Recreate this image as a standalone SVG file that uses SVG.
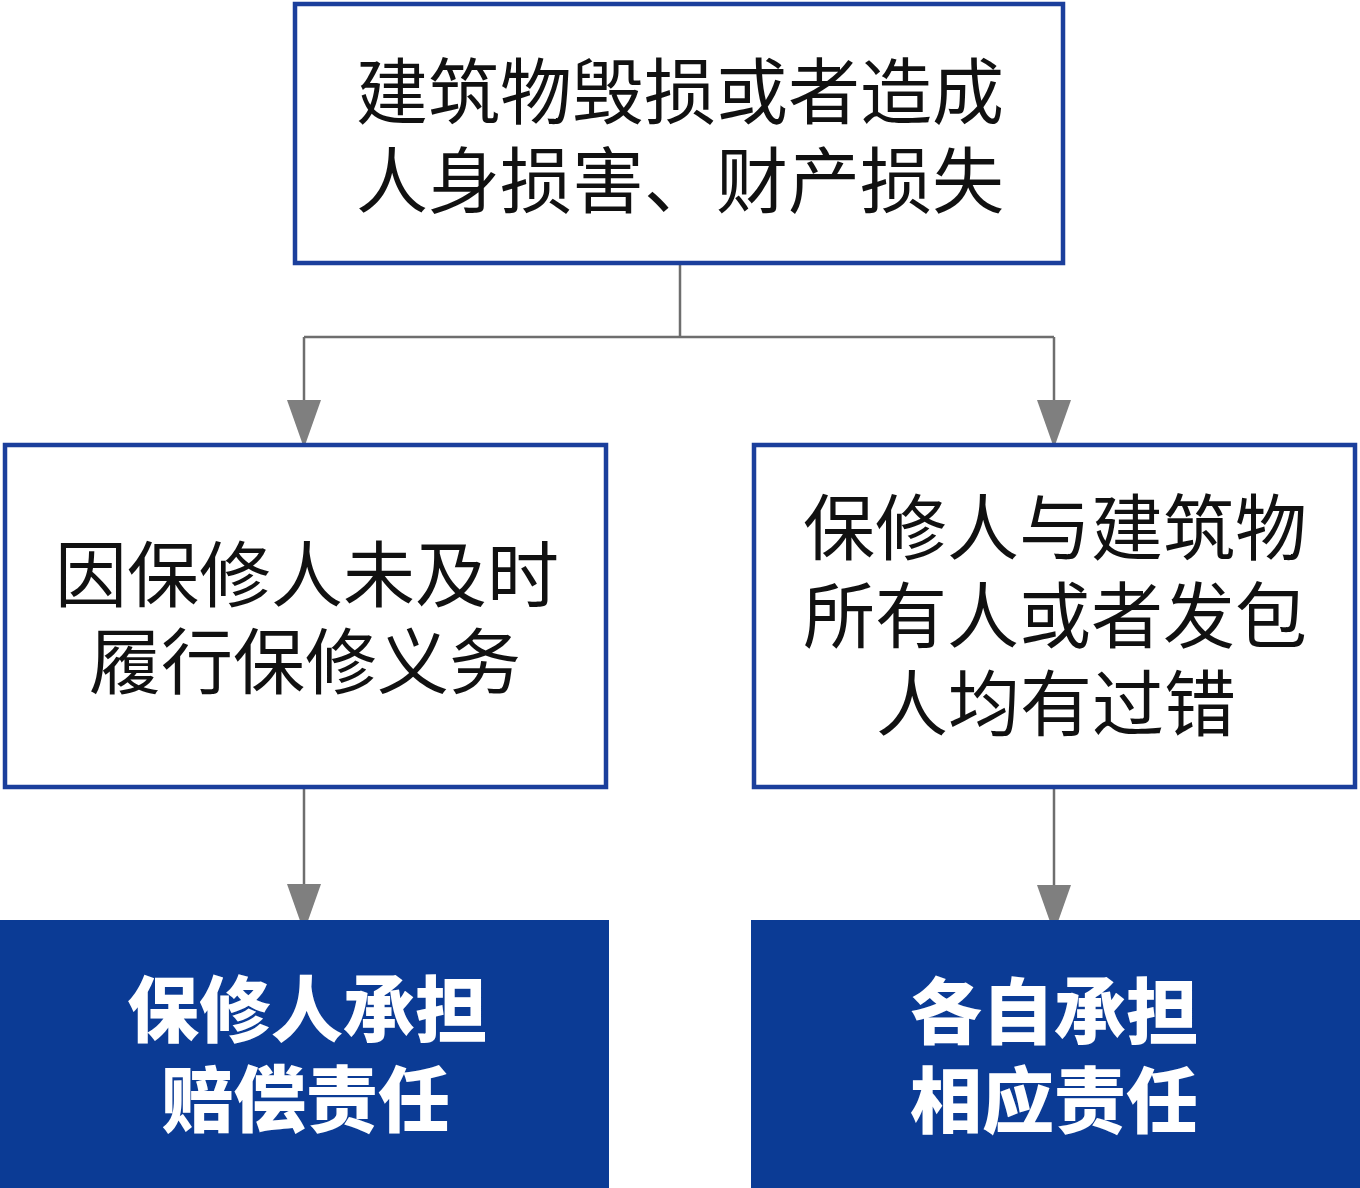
<svg xmlns="http://www.w3.org/2000/svg" width="1360" height="1188" viewBox="0 0 1360 1188">
  <defs>
    <style>
      .box { fill: #ffffff; stroke: #1b3f9c; stroke-width: 4.5; }
      .solid { fill: #0b3b95; stroke: none; }
      .t { font-family: "Noto Sans CJK SC", "Noto Sans", sans-serif; font-size: 72px; fill: #111111; text-anchor: middle; }
      .tb { font-family: "Noto Sans CJK SC", "Noto Sans", sans-serif; font-size: 72px; font-weight: 900; fill: #ffffff; text-anchor: middle; }
      .conn { fill: none; stroke: #6e6e6e; stroke-width: 2.5; }
    </style>
    <marker id="arrow" viewBox="0 0 48 34" refX="48" refY="17" markerWidth="48" markerHeight="34" markerUnits="userSpaceOnUse" orient="auto">
      <path d="M0,0 L48,17 L0,34 Z" fill="#7f7f7f"/>
    </marker>
  </defs>
  <rect x="0" y="0" width="1360" height="1188" fill="#ffffff"/>

  <g id="connectors">
    <path class="conn" d="M680,264 V337"/>
    <path class="conn" d="M304,337 H1054"/>
    <path class="conn" d="M304,337 V448" marker-end="url(#arrow)"/>
    <path class="conn" d="M1054,337 V448" marker-end="url(#arrow)"/>
    <path class="conn" d="M304,789 V932" marker-end="url(#arrow)"/>
    <path class="conn" d="M1054,789 V933" marker-end="url(#arrow)"/>
  </g>

  <g id="node-top">
    <rect class="box" x="295" y="4" width="768" height="259"/>
    <text class="t" x="680" y="118">建筑物毁损或者造成</text>
    <text class="t" x="680" y="207">人身损害、财产损失</text>
  </g>

  <g id="node-left">
    <rect class="box" x="5" y="445" width="601" height="342"/>
    <text class="t" x="307" y="601">因保修人未及时</text>
    <text class="t" x="305" y="688">履行保修义务</text>
  </g>

  <g id="node-right">
    <rect class="box" x="754" y="445" width="601" height="342"/>
    <text class="t" x="1055" y="554">保修人与建筑物</text>
    <text class="t" x="1055" y="642">所有人或者发包</text>
    <text class="t" x="1056" y="730">人均有过错</text>
  </g>

  <g id="node-bottom-left">
    <rect class="solid" x="0" y="920" width="609" height="268"/>
    <text class="tb" x="307" y="1036">保修人承担</text>
    <text class="tb" x="306" y="1126">赔偿责任</text>
  </g>

  <g id="node-bottom-right">
    <rect class="solid" x="751" y="920" width="609" height="268"/>
    <text class="tb" x="1054" y="1038">各自承担</text>
    <text class="tb" x="1054" y="1127">相应责任</text>
  </g>
</svg>
